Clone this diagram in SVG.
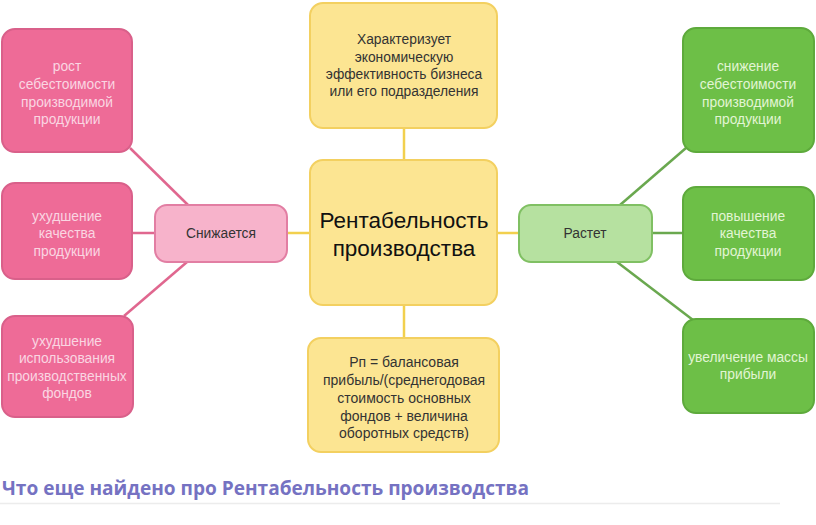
<svg xmlns="http://www.w3.org/2000/svg" width="816" height="525" viewBox="0 0 816 525">
<style>
text{font-family:"Liberation Sans",Arial,sans-serif;text-anchor:middle}
.pk{fill:#ee6b97;stroke:#d9608a;stroke-width:2}
.pkl{fill:#f7b3cb;stroke:#e27ea3;stroke-width:2}
.yl{fill:#fce592;stroke:#f3d060;stroke-width:2}
.gr{fill:#6dbf47;stroke:#5eaa3c;stroke-width:2}
.grl{fill:#b6e1a0;stroke:#80c063;stroke-width:2}
.tp{fill:#fad6e2;font-size:13.8px}
.tg{fill:#e2f5d4;font-size:13.8px}
.td{fill:#333;font-size:13.8px}
.cp{stroke:#e0678f;stroke-width:2.5;fill:none}
.cy{stroke:#f2d04e;stroke-width:2.5;fill:none}
.cg{stroke:#6aa84f;stroke-width:2.5;fill:none}
</style>
<rect width="816" height="525" fill="#ffffff"/>
<g id="connectors">
<line class="cp" x1="130" y1="148" x2="188" y2="205"/>
<line class="cp" x1="133" y1="233" x2="155" y2="233"/>
<line class="cp" x1="124" y1="316" x2="187" y2="262"/>
<line class="cy" x1="287" y1="233" x2="310" y2="233"/>
<line class="cy" x1="497" y1="233" x2="519" y2="233"/>
<line class="cy" x1="404" y1="128" x2="404" y2="160"/>
<line class="cy" x1="404" y1="305" x2="404" y2="338"/>
<line class="cg" x1="620" y1="205" x2="686" y2="148"/>
<line class="cg" x1="652" y1="233" x2="683" y2="233"/>
<line class="cg" x1="617" y1="262" x2="693" y2="320"/>
</g>
<g id="n-pink1"><rect class="pk" x="2" y="29" width="130" height="123" rx="13"/>
<text class="tp" x="67" y="71">рост</text><text class="tp" x="67" y="89">себестоимости</text><text class="tp" x="67" y="107">производимой</text><text class="tp" x="67" y="124">продукции</text></g>
<g id="n-pink2"><rect class="pk" x="2" y="183" width="130" height="96" rx="13"/>
<text class="tp" x="67" y="221">ухудшение</text><text class="tp" x="67" y="238">качества</text><text class="tp" x="67" y="256">продукции</text></g>
<g id="n-pink3"><rect class="pk" x="2" y="316" width="131" height="101" rx="13"/>
<text class="tp" x="67" y="346">ухудшение</text><text class="tp" x="67" y="363">использования</text><text class="tp" x="67" y="381">производственных</text><text class="tp" x="67" y="398">фондов</text></g>
<g id="n-decrease"><rect class="pkl" x="155" y="205" width="132" height="57" rx="12"/>
<text class="td" x="221" y="238" fill="#222">Снижается</text></g>
<g id="n-top"><rect class="yl" x="310" y="3" width="187" height="125" rx="13"/>
<text class="td" x="404" y="44">Характеризует</text><text class="td" x="404" y="62">экономическую</text><text class="td" x="404" y="79">эффективность бизнеса</text><text class="td" x="404" y="96">или его подразделения</text></g>
<g id="n-center"><rect class="yl" x="310" y="160" width="187" height="145" rx="13"/>
<text x="404" y="228" style="font-size:22.5px;fill:#111">Рентабельность</text><text x="404" y="256" style="font-size:22.5px;fill:#111">производства</text></g>
<g id="n-bottom"><rect class="yl" x="308" y="338" width="191" height="114" rx="13"/>
<text class="td" x="404" y="367" style="font-size:14px">Рп = балансовая</text><text class="td" x="404" y="385" style="font-size:14px">прибыль/(среднегодовая</text><text class="td" x="404" y="403" style="font-size:14px">стоимость основных</text><text class="td" x="404" y="421" style="font-size:14px">фондов + величина</text><text class="td" x="404" y="438" style="font-size:14px">оборотных средств)</text></g>
<g id="n-increase"><rect class="grl" x="519" y="205" width="133" height="57" rx="12"/>
<text class="td" x="585" y="238" fill="#222">Растет</text></g>
<g id="n-green1"><rect class="gr" x="683" y="28" width="131" height="124" rx="13"/>
<text class="tg" x="748" y="71">снижение</text><text class="tg" x="748" y="89">себестоимости</text><text class="tg" x="748" y="107">производимой</text><text class="tg" x="748" y="124">продукции</text></g>
<g id="n-green2"><rect class="gr" x="683" y="187" width="131" height="93" rx="13"/>
<text class="tg" x="748" y="221">повышение</text><text class="tg" x="748" y="238">качества</text><text class="tg" x="748" y="256">продукции</text></g>
<g id="n-green3"><rect class="gr" x="683" y="319" width="131" height="94" rx="13"/>
<text class="tg" x="748" y="362">увеличение массы</text><text class="tg" x="748" y="379">прибыли</text></g>
<g id="footer">
<text x="2" y="495" style="text-anchor:start;font-family:'Open Sans','DejaVu Sans',sans-serif;font-weight:bold;font-size:20px;fill:#7572c2" textLength="527" lengthAdjust="spacingAndGlyphs">Что еще найдено про Рентабельность производства</text>
<line x1="0" y1="503.5" x2="780" y2="503.5" stroke="#ececec" stroke-width="1.5"/>
</g>
</svg>
